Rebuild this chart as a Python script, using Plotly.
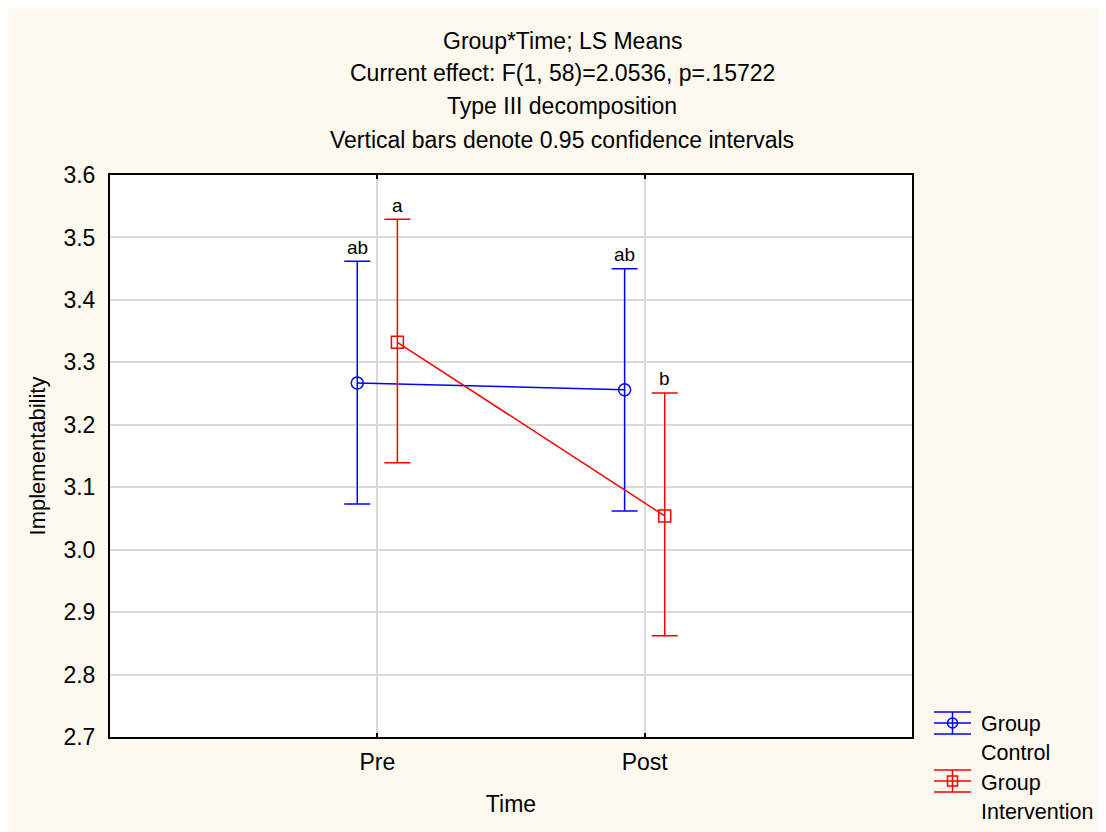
import plotly.graph_objects as go

# ---- data ----
time_labels = ["Pre", "Post"]
control_mean = [3.267, 3.256]
control_lower = [3.073, 3.062]
control_upper = [3.462, 3.450]
interv_mean = [3.332, 3.054]
interv_lower = [3.139, 2.862]
interv_upper = [3.529, 3.251]
control_letters = ["ab", "ab"]
interv_letters = ["a", "b"]
y_ticks = [2.7, 2.8, 2.9, 3.0, 3.1, 3.2, 3.3, 3.4, 3.5, 3.6]

FONT = "Liberation Sans, Arial, sans-serif"
CREAM = "#FDF9EE"
BLUE = "#0000FF"
RED = "#FF0000"
# figure sits at (8, 8) in the page (body margin); coordinates below are figure px
W, H = 1090, 824
L, T = 102, 167
PW, PH = 802, 562
R = W - L - PW
B = H - T - PH

def px_x(p):
    return (p - L) / PW

def px_y(p):
    return (T + PH - p) / PH

offset = 0.075
idx = list(range(len(time_labels)))
xc = [i - offset for i in idx]
xi = [i + offset for i in idx]

fig = go.Figure()
fig.add_trace(go.Scatter(
    x=xc, y=control_mean, mode="lines+markers",
    line=dict(color=BLUE, width=1.5),
    marker=dict(symbol="circle-open", size=12, color=BLUE, line=dict(width=1.5)),
    error_y=dict(type="data", symmetric=False,
                 array=[u - m for u, m in zip(control_upper, control_mean)],
                 arrayminus=[m - l for m, l in zip(control_mean, control_lower)],
                 color=BLUE, thickness=1.5, width=13),
    showlegend=False, name="Group Control"))
fig.add_trace(go.Scatter(
    x=xi, y=interv_mean, mode="lines+markers",
    line=dict(color=RED, width=1.5),
    marker=dict(symbol="square-open", size=12, color=RED, line=dict(width=1.5)),
    error_y=dict(type="data", symmetric=False,
                 array=[u - m for u, m in zip(interv_upper, interv_mean)],
                 arrayminus=[m - l for m, l in zip(interv_mean, interv_lower)],
                 color=RED, thickness=1.5, width=13),
    showlegend=False, name="Group Intervention"))

annotations = []
for x, u, t in zip(xc, control_upper, control_letters):
    annotations.append(dict(x=x, y=u, text=t, showarrow=False, yshift=14,
                            font=dict(size=19, color="black", family=FONT)))
for x, u, t in zip(xi, interv_upper, interv_letters):
    annotations.append(dict(x=x, y=u, text=t, showarrow=False, yshift=14,
                            font=dict(size=19, color="black", family=FONT)))

titles = ["Group*Time; LS Means",
          "Current effect: F(1, 58)=2.0536, p=.15722",
          "Type III decomposition",
          "Vertical bars denote 0.95 confidence intervals"]
for t, ypx in zip(titles, [33, 65, 98, 132]):
    annotations.append(dict(xref="paper", yref="paper", x=px_x(554), y=px_y(ypx),
                            text=t, showarrow=False, xanchor="center", yanchor="middle",
                            font=dict(size=23, color="black", family=FONT)))

# legend text
for t, ypx in [("Group", 716), ("Control", 745), ("Group", 775), ("Intervention", 804)]:
    annotations.append(dict(xref="paper", yref="paper", x=px_x(971), y=px_y(ypx),
                            text=t, showarrow=False, xanchor="left", yanchor="middle",
                            font=dict(size=21.5, color="black", family=FONT)))

shapes = []
# legend glyphs
for col, yc, sym in [(BLUE, 715, "circle"), (RED, 773, "square")]:
    for yy in (yc - 11, yc, yc + 11):
        shapes.append(dict(type="line", xref="paper", yref="paper",
                           x0=px_x(926), x1=px_x(963), y0=px_y(yy), y1=px_y(yy),
                           line=dict(color=col, width=1.5)))
    shapes.append(dict(type="line", xref="paper", yref="paper",
                       x0=px_x(944.5), x1=px_x(944.5), y0=px_y(yc - 11), y1=px_y(yc + 11),
                       line=dict(color=col, width=1.5)))
    shapes.append(dict(type=("circle" if sym == "circle" else "rect"), xref="paper", yref="paper",
                       x0=px_x(939.5), x1=px_x(949.5), y0=px_y(yc + 5), y1=px_y(yc - 5),
                       line=dict(color=col, width=1.5)))

fig.update_layout(
    width=W, height=H,
    margin=dict(l=L, r=R, t=T, b=B, pad=0),
    paper_bgcolor=CREAM, plot_bgcolor="white",
    font=dict(family=FONT, size=23, color="black"),
    annotations=annotations, shapes=shapes,
    xaxis=dict(range=[-1, 2], tickvals=idx, ticktext=time_labels,
               showgrid=True, gridcolor="#D9D9D9", gridwidth=1.5,
               showline=True, linecolor="black", linewidth=2, mirror="allticks",
               ticks="inside", ticklen=4, tickcolor="black", tickwidth=1.5,
               zeroline=False, ticklabelstandoff=3,
               tickfont=dict(size=23, family=FONT),
               title=dict(text="Time", font=dict(size=23, family=FONT), standoff=22)),
    yaxis=dict(range=[2.7, 3.6], tickvals=y_ticks, tickformat=".1f",
               showgrid=True, gridcolor="#D9D9D9", gridwidth=1.5,
               showline=True, linecolor="black", linewidth=2, mirror=True,
               ticks="", zeroline=False, ticklabelstandoff=8,
               tickfont=dict(size=23, family=FONT),
               title=dict(text="Implementability", font=dict(size=22, family=FONT), standoff=12)),
)

fig.write_html("out.html")
